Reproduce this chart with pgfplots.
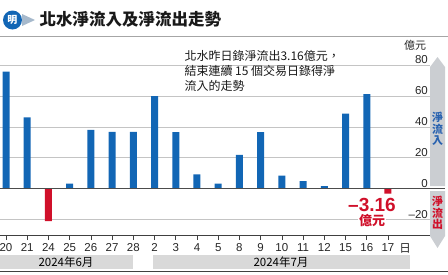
\documentclass[border=0pt]{standalone}
\usepackage{fontspec}
\usepackage{pgfplots}
\pgfplotsset{compat=1.18}
\setmainfont{Liberation Sans}
\newfontfamily\cjk{Noto Sans CJK TC}
\definecolor{barblue}{HTML}{1266B5}
\definecolor{barred}{HTML}{D0102A}
\definecolor{gridgray}{HTML}{C4C4C4}
\definecolor{bandgray}{HTML}{D9D9D9}
\definecolor{arrowgray}{HTML}{CBCED2}
\definecolor{txtblue}{HTML}{2A63B0}
\begin{document}
\begin{tikzpicture}[x=1pt,y=1pt]
\path[use as bounding box] (0,0) rectangle (448,274);
% title
\fill[barblue] (12.5,254) circle (9.5);
\node[text=white,font=\cjk\bfseries\fontsize{10}{10}\selectfont] at (12.5,254) {明};
\fill[arrowgray!80!barblue] (22,260) -- (35,254) -- (22,248) -- cycle;
\node[anchor=west,font=\cjk\bfseries\fontsize{16.5}{16.5}\selectfont,text=black!90] at (36,254.5) {北水淨流入及淨流出走勢};
\draw[gray!70,line width=0.7] (0,238) -- (448,238);
% month bands
\fill[bandgray] (0,5.5) rectangle (133,19);
\fill[bandgray] (153,5.5) rectangle (410,19);
\node[font=\cjk\fontsize{11.5}{11.5}\selectfont] at (66,12.3) {2024年6月};
\node[font=\cjk\fontsize{11.5}{11.5}\selectfont] at (281,12.3) {2024年7月};
\draw[black!75,line width=0.9] (0,2.5) -- (448,2.5);
% right arrows
\fill[arrowgray] (430,88) -- (430,207) -- (437.5,217) -- (445,207) -- (445,88) -- cycle;
\fill[arrowgray] (430,83) -- (430,38) -- (437.5,26) -- (445,38) -- (445,83) -- cycle;
\node[text=txtblue,align=center,font=\cjk\bfseries\fontsize{11}{11.5}\selectfont] at (437.5,145) {淨\\流\\入};
\node[text=barred,align=center,font=\cjk\bfseries\fontsize{11}{11.5}\selectfont] at (437.5,61) {淨\\流\\出};
\begin{axis}[
  at={(0pt,39pt)}, anchor=south west,
  scale only axis, width=430pt, height=170pt,
  xmin=-0.2828, xmax=19.98, ymin=-30, ymax=80,
  clip=false,
  axis x line*=bottom, axis y line*=right,
  y axis line style={draw=none},
  x axis line style={black!75,line width=0.8pt},
  xtick={0,...,18},
  xticklabels={20,21,24,25,26,27,28,2,3,4,5,8,9,10,11,12,15,16,17},
  xtick style={black!75,line width=0.7pt},
  tick align=outside, major tick length=5pt,
  xticklabel style={font=\fontsize{11.5}{11.5}\selectfont,text=black!85},
  ytick={-20,0,20,40,60,80},
  yticklabels={–20,0,20,40,60,80},
  ytick style={draw=none},
  yticklabel style={font=\fontsize{11.5}{11.5}\selectfont,text=black!85,anchor=south east,inner sep=1pt,xshift=-6pt},
  ymajorgrids, grid style={gridgray,line width=0.6pt},
  ybar, bar width=7pt,
]
\addplot[fill=barblue,draw=none,bar shift=0pt] coordinates {
(0,75.7) (1,46.1) (3,3.2) (4,38.1) (5,36.8) (6,36.8) (7,59.9) (8,36.5) (9,9.3)
(10,3.2) (11,21.8) (12,36.5) (13,8.4) (14,4.8) (15,1.7) (16,48.6) (17,61.2)};
\addplot[fill=barred,draw=none,bar shift=0pt] coordinates {(2,-21) (18,-3.16)};
\draw[black!70,line width=0.8pt] (axis cs:-0.2828,0) -- (axis cs:20.69,0);
\end{axis}
% annotations
\node[anchor=north west,align=left,font=\cjk\fontsize{12}{15}\selectfont,text=black!90] at (181,227) {北水昨日錄淨流出3.16億元，\\結束連續 15 個交易日錄得淨\\流入的走勢};
\node[font=\cjk\fontsize{11}{11}\selectfont,text=black!85] at (415,229) {億元};
\node[fill=white,inner sep=1pt,text=barred,font=\bfseries\fontsize{19}{19}\selectfont] at (372,69) {–3.16};
\node[fill=white,inner sep=1pt,text=barred,font=\cjk\bfseries\fontsize{13}{13}\selectfont] at (372,53) {億元};
\node[font=\cjk\fontsize{11.5}{11.5}\selectfont,text=black!85] at (405,26) {日};
\end{tikzpicture}
\end{document}
